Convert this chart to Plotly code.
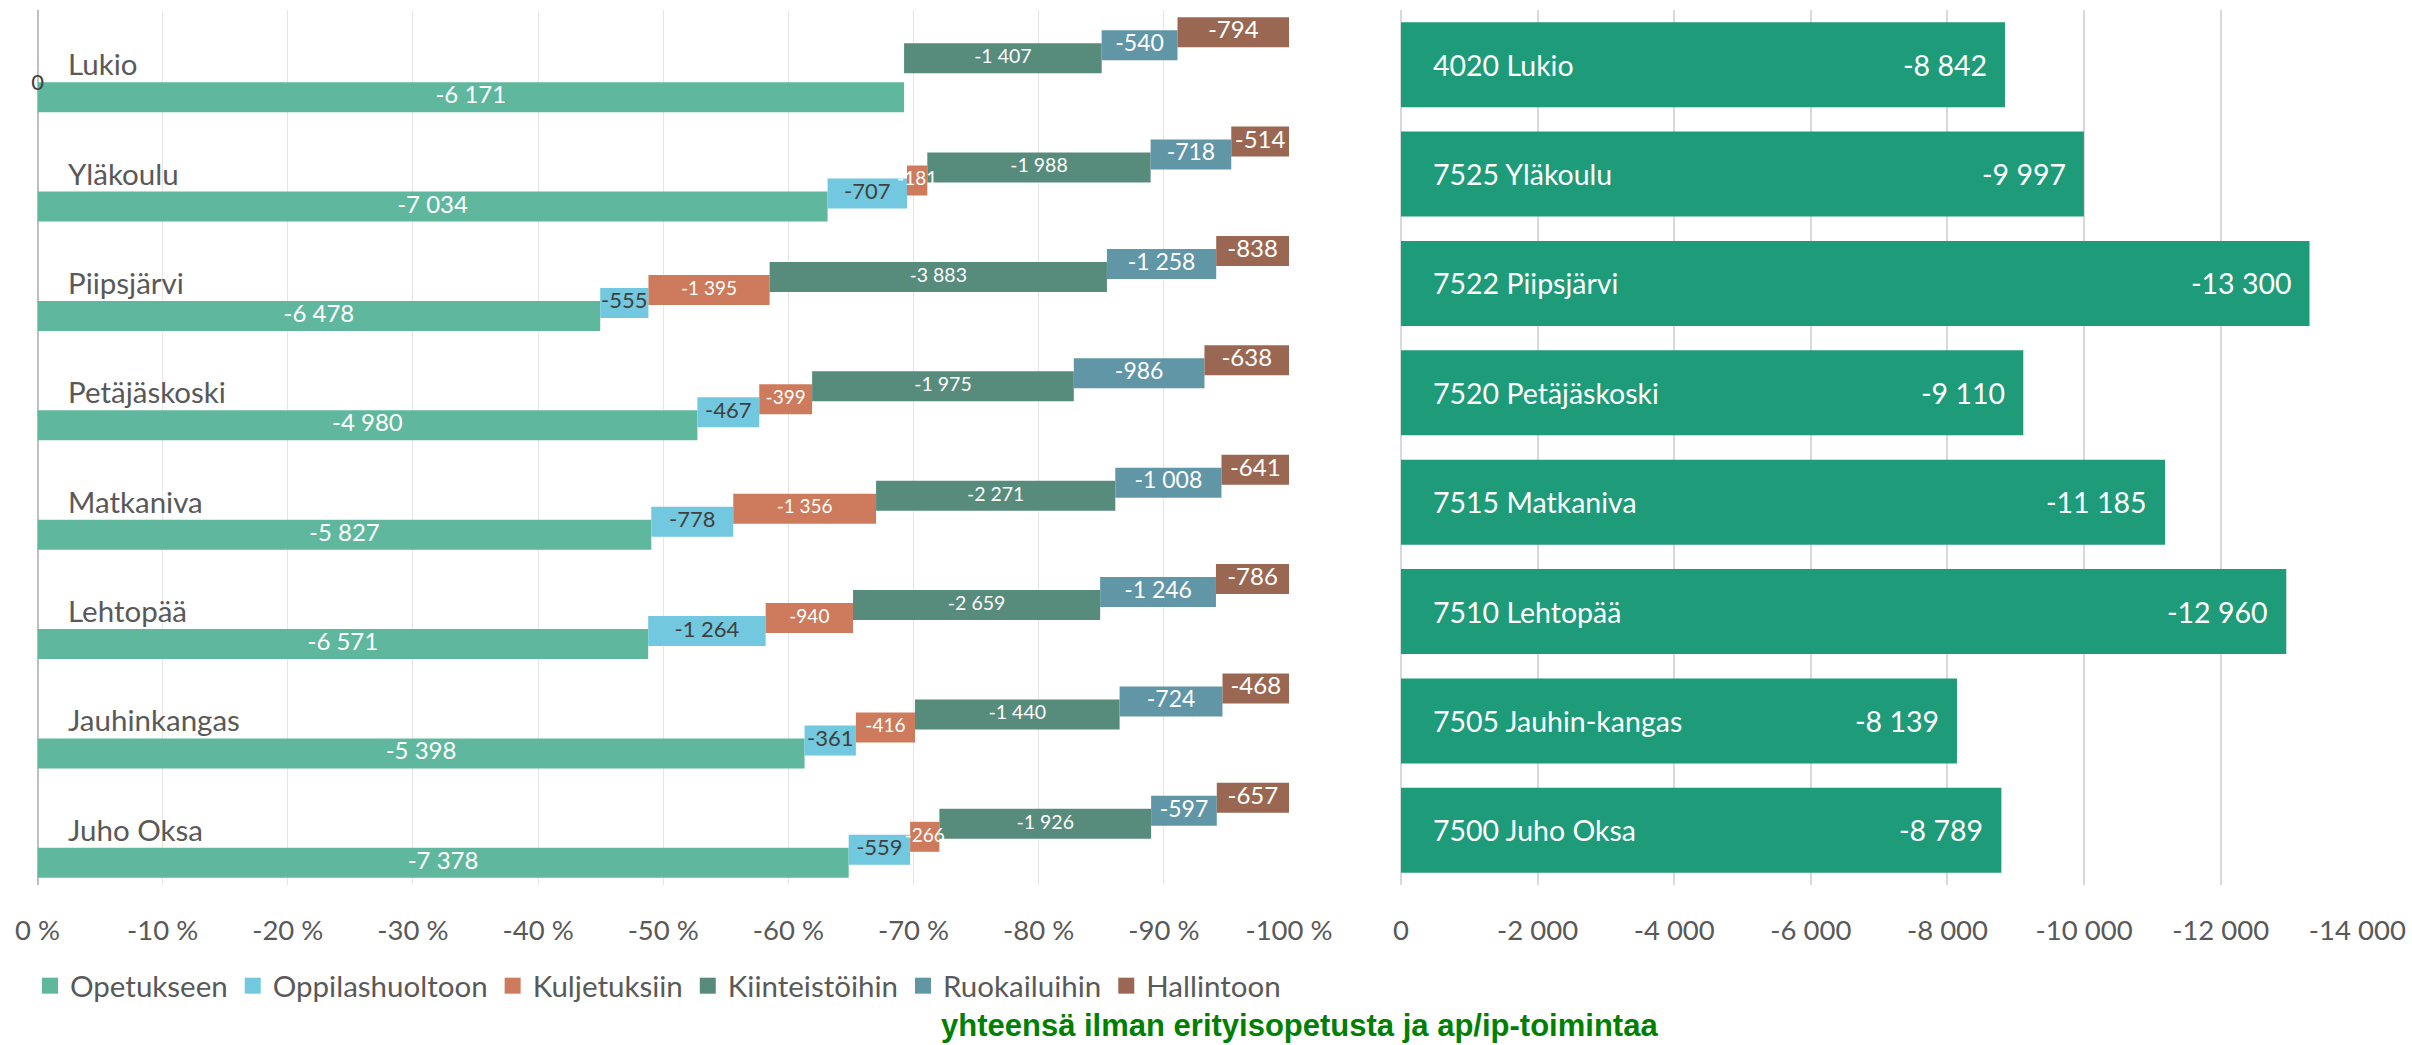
import plotly.graph_objects as go

# ---------------- data ----------------
categories = ["Lukio", "Yläkoulu", "Piipsjärvi", "Petäjäskoski",
              "Matkaniva", "Lehtopää", "Jauhinkangas", "Juho Oksa"]

series_names = ["Opetukseen", "Oppilashuoltoon", "Kuljetuksiin",
                "Kiinteistöihin", "Ruokailuihin", "Hallintoon"]
opetukseen = [-6171, -7034, -6478, -4980, -5827, -6571, -5398, -7378]
oppilashuoltoon = [0, -707, -555, -467, -778, -1264, -361, -559]
kuljetuksiin = [0, -181, -1395, -399, -1356, -940, -416, -266]
kiinteistoihin = [-1407, -1988, -3883, -1975, -2271, -2659, -1440, -1926]
ruokailuihin = [-540, -718, -1258, -986, -1008, -1246, -724, -597]
hallintoon = [-794, -514, -838, -638, -641, -786, -468, -657]

right_labels = ["4020 Lukio", "7525 Yläkoulu", "7522 Piipsjärvi",
                "7520 Petäjäskoski", "7515 Matkaniva", "7510 Lehtopää",
                "7505 Jauhin-kangas", "7500 Juho Oksa"]
right_totals = [-8842, -9997, -13300, -9110, -11185, -12960, -8139, -8789]

pct_tickvals = [0, -0.1, -0.2, -0.3, -0.4, -0.5, -0.6, -0.7, -0.8, -0.9, -1.0]
pct_ticktext = ["0 %", "-10 %", "-20 %", "-30 %", "-40 %", "-50 %",
                "-60 %", "-70 %", "-80 %", "-90 %", "-100 %"]
num_tickvals = [0, -2000, -4000, -6000, -8000, -10000, -12000, -14000]
num_ticktext = ["0", "-2 000", "-4 000", "-6 000", "-8 000",
                "-10 000", "-12 000", "-14 000"]

title_text = "yhteensä ilman erityisopetusta ja ap/ip-toimintaa"

# ---------------- styles ----------------
colors = ["#5FB89E", "#72C8DE", "#CD7B5C", "#578B7C", "#6096A6", "#9A6852"]
label_colors = ["white", "#404040", "white", "white", "white", "white"]
label_sizes = [24, 22, 19, 19.5, 23, 24]
right_color = "#1E9B79"
FONT = "Lato, 'Open Sans', sans-serif"
GRAY = "#595959"

def fmt(v):
    return format(v, ",").replace(",", "\u00a0")

series = [opetukseen, oppilashuoltoon, kuljetuksiin,
          kiinteistoihin, ruokailuihin, hallintoon]

n = len(categories)
ycat = [-i for i in range(n)]
step = 13 / 109.4          # vertical shift between series (category units)
bw = 30 / 109.4            # bar thickness

row_sums = [sum(s[i] for s in series) for i in range(n)]

fig = go.Figure()

cum = [0.0] * n
text_traces = []
for k, (name, vals) in enumerate(zip(series_names, series)):
    frac = [-(vals[i] / row_sums[i]) for i in range(n)]
    base = list(cum)
    ypos = [ycat[i] + (k - 2.5) * step for i in range(n)]
    fig.add_trace(go.Bar(
        x=frac, base=base, y=ypos, orientation="h", width=bw,
        name=name, marker=dict(color=colors[k], line=dict(width=0)),
        showlegend=False, xaxis="x", yaxis="y", hoverinfo="skip",
    ))
    # zero-valued segments get their label at the axis origin (as in the original)
    mids = [(base[i] + frac[i] / 2) if vals[i] != 0 else 0 for i in range(n)]
    texts = [fmt(v) if (v != 0 or label_colors[k] != "white") else "" for v in vals]
    text_traces.append(go.Scatter(
        x=mids, y=ypos, mode="text", text=texts,
        textposition="middle center", cliponaxis=False,
        textfont=dict(family=FONT, size=label_sizes[k], color=label_colors[k]),
        showlegend=False, xaxis="x", yaxis="y", hoverinfo="skip",
    ))
    cum = [cum[i] + frac[i] for i in range(n)]

fig.add_trace(go.Bar(
    x=right_totals, y=ycat, orientation="h", width=85 / 109.4,
    marker=dict(color=right_color, line=dict(width=0)),
    showlegend=False, xaxis="x2", yaxis="y2", hoverinfo="skip",
))

for t in text_traces:
    fig.add_trace(t)

# legend-only entries with square swatches
for k, name in enumerate(series_names):
    fig.add_trace(go.Scatter(
        x=[None], y=[None], mode="markers", name=name,
        marker=dict(symbol="square", size=17, color=colors[k]),
        xaxis="x", yaxis="y", hoverinfo="skip", showlegend=True,
    ))

annotations = []
for i, c in enumerate(categories):
    annotations.append(dict(
        x=0, y=ycat[i], xref="x", yref="y", text=c, showarrow=False,
        xanchor="left", yanchor="middle", xshift=28, yshift=1,
        font=dict(family=FONT, size=29.5, color=GRAY),
    ))
for i, (lab, tot) in enumerate(zip(right_labels, right_totals)):
    annotations.append(dict(
        x=0, y=ycat[i], xref="x2", yref="y2", text=lab, showarrow=False,
        xanchor="left", yanchor="middle", xshift=30,
        font=dict(family=FONT, size=28.5, color="white"),
    ))
    annotations.append(dict(
        x=tot, y=ycat[i], xref="x2", yref="y2", text=fmt(tot), showarrow=False,
        xanchor="right", yanchor="middle", xshift=-16,
        font=dict(family=FONT, size=28.5, color="white"),
    ))
annotations.append(dict(
    x=1299 / 2412, y=1 - 1025 / 1045, xref="paper", yref="paper",
    text="<b>" + title_text + "</b>", showarrow=False,
    xanchor="center", yanchor="middle",
    font=dict(family="'Liberation Sans', Arial, sans-serif", size=31, color="#008000"),
))

W, H = 2412, 1045
ydom = [1 - 885 / H, 1 - 10 / H]

fig.update_layout(
    width=W, height=H, margin=dict(l=0, r=0, t=0, b=0),
    paper_bgcolor="white", plot_bgcolor="white",
    barmode="overlay", showlegend=True,
    font=dict(family=FONT, color=GRAY),
    xaxis=dict(domain=[37.5 / W, 1290 / W], range=[0, -1.0008],
               tickvals=pct_tickvals, ticktext=pct_ticktext,
               showgrid=True, gridcolor="#E6E6E6", gridwidth=1,
               zeroline=True, zerolinecolor="#BFBFBF", zerolinewidth=1.5,
               showline=False, ticks="", ticklabelstandoff=26,
               tickfont=dict(family=FONT, size=27.5, color=GRAY),
               fixedrange=True, automargin=False),
    yaxis=dict(domain=ydom, range=[-n + 0.5, 0.5], showticklabels=False,
               showgrid=False, zeroline=False, ticks="", automargin=False),
    xaxis2=dict(domain=[1401 / W, 2358 / W], range=[0, -14010],
                tickvals=num_tickvals, ticktext=num_ticktext,
                showgrid=True, gridcolor="#D9D9D9", gridwidth=1.5,
                zeroline=True, zerolinecolor="#D9D9D9", zerolinewidth=1.5,
                showline=False, ticks="", ticklabelstandoff=26,
                tickfont=dict(family=FONT, size=27.5, color=GRAY),
                anchor="y2", automargin=False),
    yaxis2=dict(domain=ydom, range=[-n + 0.5, 0.5], showticklabels=False,
                showgrid=False, zeroline=False, ticks="", anchor="x2",
                automargin=False),
    legend=dict(orientation="h", x=658 / W, xanchor="center",
                y=1 - 986 / H, yanchor="middle",
                font=dict(family=FONT, size=29.5, color=GRAY),
                bgcolor="rgba(0,0,0,0)", itemwidth=30, traceorder="normal",
                itemsizing="trace"),
    annotations=annotations,
)

fig.write_html(
    "out.html",
    config={"displayModeBar": False},
    post_script="document.body.style.margin='0';document.body.style.overflow='hidden';",
)
